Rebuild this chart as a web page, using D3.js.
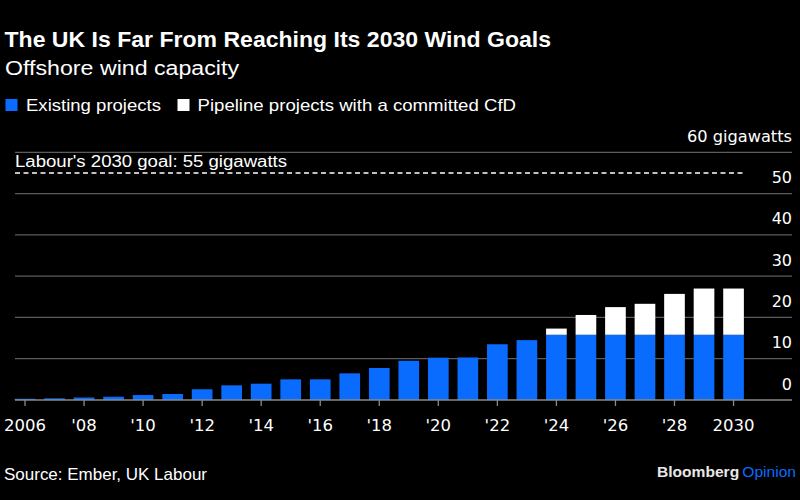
<!DOCTYPE html>
<html>
<head>
<meta charset="utf-8">
<script src="https://cdn.jsdelivr.net/npm/d3@7"></script>
<style>
  html, body { margin: 0; padding: 0; background: #000; }
  svg { display: block; }
  text { font-family: "Liberation Sans", Arial, Helvetica, sans-serif; fill: #fff; }
</style>
</head>
<body>
<svg id="chart" width="800" height="500"></svg>
<script>
// ---- data ----
const years = [2006,2007,2008,2009,2010,2011,2012,2013,2014,2015,2016,2017,2018,2019,2020,2021,2022,2023,2024,2025,2026,2027,2028,2029,2030];
const existing = [0.3,0.4,0.6,0.8,1.2,1.45,2.6,3.55,3.95,5.0,5.0,6.45,7.75,9.5,10.25,10.3,13.5,14.5,15.8,15.8,15.8,15.8,15.8,15.8,15.8];
const pipeline = [0,0,0,0,0,0,0,0,0,0,0,0,0,0,0,0,0,0,1.5,4.8,6.7,7.5,9.9,11.2,11.2];
const yTicks = [0,10,20,30,40,50,60];
const xTickYears = [2006,2008,2010,2012,2014,2016,2018,2020,2022,2024,2026,2028,2030];
const goal = 55;

const BLUE = "#0a6cff";
const GRID = "#5c5c5c";
const NUMFONT = "'DejaVu Sans', 'Liberation Sans', sans-serif";

const svg = d3.select("#chart");
svg.append("rect").attr("width", 800).attr("height", 500).attr("fill", "#000");

function fitText(sel, w) {
  sel.attr("textLength", w).attr("lengthAdjust", "spacingAndGlyphs");
  return sel;
}

// ---- titles ----
fitText(svg.append("text").attr("x", 4.5).attr("y", 47).attr("font-size", 22).attr("font-weight", "bold")
  .text("The UK Is Far From Reaching Its 2030 Wind Goals"), 546.5);
fitText(svg.append("text").attr("x", 5).attr("y", 75).attr("font-size", 20)
  .text("Offshore wind capacity"), 234);

// ---- legend ----
svg.append("rect").attr("x", 5.5).attr("y", 99).attr("width", 12).attr("height", 12).attr("fill", BLUE);
fitText(svg.append("text").attr("x", 26).attr("y", 111).attr("font-size", 17).text("Existing projects"), 135);
svg.append("rect").attr("x", 177.5).attr("y", 99).attr("width", 12).attr("height", 12).attr("fill", "#fff");
fitText(svg.append("text").attr("x", 197.5).attr("y", 111).attr("font-size", 17).text("Pipeline projects with a committed CfD"), 318.5);

// ---- scales ----
const x = d3.scaleBand().domain(years).range([10.25, 748.3]).paddingInner(0.3).paddingOuter(0.15);
const y = d3.scaleLinear().domain([0, 60]).range([400, 152.3]);

const gridX0 = 15, gridX1 = 792;

// gridlines
svg.append("g").selectAll("line").data(yTicks.filter(d => d > 0)).join("line")
  .attr("x1", gridX0).attr("x2", gridX1)
  .attr("y1", d => y(d)).attr("y2", d => y(d))
  .attr("stroke", GRID).attr("stroke-width", 1.3);

// y labels (above gridlines)
svg.append("g").selectAll("text").data(yTicks).join("text")
  .attr("x", 792).attr("y", d => y(d) - 10.5)
  .attr("text-anchor", "end").attr("font-size", 16).attr("fill", "#f0f0f0")
  .style("font-family", NUMFONT)
  .text(d => d === 60 ? "60 gigawatts" : d)
  .each(function(d) { if (d === 60) fitText(d3.select(this), 105); });

// bars
const rows = years.map((yr, i) => ({ yr, e: existing[i], p: pipeline[i] }));
svg.append("g").selectAll("rect").data(rows).join("rect")
  .attr("x", d => x(d.yr)).attr("width", x.bandwidth())
  .attr("y", d => y(d.e)).attr("height", d => y(0) - y(d.e))
  .attr("fill", BLUE);
svg.append("g").selectAll("rect").data(rows.filter(d => d.p > 0)).join("rect")
  .attr("x", d => x(d.yr)).attr("width", x.bandwidth())
  .attr("y", d => y(d.e + d.p)).attr("height", d => y(d.e) - y(d.e + d.p))
  .attr("fill", "#fff");

// x axis baseline
svg.append("line").attr("x1", gridX0).attr("x2", gridX1).attr("y1", y(0)).attr("y2", y(0))
  .attr("stroke", "#8a8a8a").attr("stroke-width", 1.3);

// x axis ticks + labels
const xAxis = d3.axisBottom(x).tickValues(xTickYears).tickSize(6).tickPadding(0)
  .tickFormat(d => (d === 2006 || d === 2030) ? String(d) : "'" + String(d).slice(2));
const gx = svg.append("g").attr("transform", `translate(0,${y(0)})`).call(xAxis);
gx.select(".domain").remove();
gx.selectAll(".tick line").attr("stroke", "#8a8a8a").attr("stroke-width", 1.3);
gx.selectAll(".tick text").attr("font-size", 16.5).attr("fill", "#f0f0f0")
  .attr("dy", null).attr("y", 30.7)
  .style("font-family", NUMFONT);

// goal line
svg.append("line").attr("x1", gridX0).attr("x2", 745).attr("y1", y(goal)).attr("y2", y(goal))
  .attr("stroke", "#fff").attr("stroke-width", 1.5).attr("stroke-dasharray", "5,3.5");
fitText(svg.append("text").attr("x", 15).attr("y", 166.5).attr("font-size", 16).attr("fill", "#f0f0f0")
  .text("Labour's 2030 goal: 55 gigawatts"), 272);

// ---- footer ----
fitText(svg.append("text").attr("x", 4).attr("y", 480).attr("font-size", 17).attr("fill", "#e8e8e8")
  .text("Source: Ember, UK Labour"), 203);
const brand = svg.append("text").attr("x", 657).attr("y", 477.3)
  .attr("font-size", 15).attr("font-weight", "bold");
fitText(brand, 139);
brand.append("tspan").attr("fill", "#e8e8e8").text("Bloomberg");
brand.append("tspan").attr("fill", BLUE).attr("font-weight", "normal").attr("dx", 3).text("Opinion");
</script>
</body>
</html>
